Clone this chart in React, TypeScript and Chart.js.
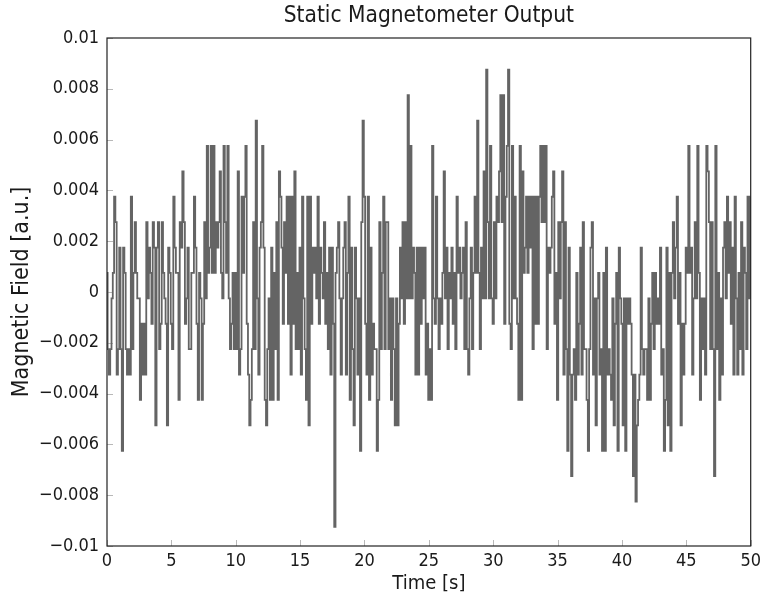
import { useEffect, useRef } from "react";
import { Chart, registerables } from "chart.js";

Chart.register(...registerables);

const TITLE = "Static Magnetometer Output";
const X_LABEL = "Time [s]";
const Y_LABEL = "Magnetic Field [a.u.]";

// Sampling and quantisation of the magnetometer readout
const SAMPLE_INTERVAL_S = 0.1;
const COUNT_SIZE = 0.001; // one quantisation step in a.u.
const COUNT_OFFSET = -0.00025; // level of count 0 in a.u.

// Readout in counts, segment by segment
const counts_0_0_to_8_3 = [
  1, -2, -3, -2, 0, 1, 4, 3, -3, -2,
  2, -2, -6, 2, 1, -2, -3, -2, -3, 4,
  -2, 1, 3, 1, 0, 0, -4, -1, -3, -1,
  -3, 3, 0, 2, 1, -1, 3, 2, -5, 2,
  3, -2, -1, 3, 1, 0, -1, -5, 2, 1,
  -1, -2, 4, 2, 1, 1, -4, 3, 2, 5,
  3, -1, 0, 2, -2, -2, 1, 1, 4, 2,
  -1, -4, 1, 0, -4, -1, 3, 0, 6, 1,
  2, 6, 1, 6,
];
const counts_8_4_to_16_7 = [
  1, 3, 2, 3, 5, 1, 0, 6, 3, 1,
  6, 0, -2, -1, 1, -2, 1, -2, 5, -3,
  -2, 4, 1, 4, 6, -1, -3, -5, -4, -2,
  3, -2, 7, 0, -3, 2, 3, 6, 2, -4,
  -5, -2, 0, -4, 2, -4, 1, -2, 3, -4,
  5, 4, 2, -1, 3, 1, 4, -1, 4, -3,
  4, -1, 5, -2, 1, -2, 2, -3, 4, 0,
  -2, -4, 4, -5, 4, -1, 2, 1, 2, 0,
  4, -1, 2, 1,
];
const counts_16_8_to_25_1 = [
  0, 3, -1, 1, -2, 2, -3, 2, -1, -9,
  1, 2, 3, 0, -3, 0, 2, 3, -3, 1,
  4, -4, 2, -2, -5, 2, 0, -3, 0, -6,
  3, 7, 4, -1, -3, 4, -4, 2, -3, -1,
  -2, -2, -6, -4, 3, -2, 1, 4, -2, 3,
  3, -2, 0, -4, 0, -2, -5, 0, -5, -1,
  2, 0, 3, -1, 3, 0, 8, 0, 6, 0,
  2, 1, -3, 2, -3, 2, -1, 2, 0, 2,
  -3, -1, -4, -2,
];
const counts_25_2_to_33_4 = [
  -4, 6, 0, -1, 4, 0, -2, 0, -1, 1,
  5, 0, 2, -2, 1, 0, 2, -1, 1, -2,
  4, 1, 2, 0, 1, 2, -2, 3, -2, -3,
  0, 2, -2, 1, 4, 1, 7, 1, -2, 2,
  0, 5, 0, 9, 3, 0, 6, 0, -1, 3,
  0, 4, 3, 5, 8, 3, 8, -1, 4, 6,
  9, -1, -2, 6, 0, 4, 0, -1, -4, 6,
  -4, 5, 1, 2, 4, 1, 4, 2, 4, -2,
  4, -1, 4,
];
const counts_33_5_to_41_8 = [
  -1, 4, 6, 3, 6, 3, 6, -2, 2, 1,
  2, 4, 5, -1, 1, -4, 3, 0, 3, 5,
  -3, 3, -2, -6, 2, -3, -7, -3, -2, -4,
  1, -3, -1, 2, -3, 3, -2, -2, -4, -6,
  -2, 2, 3, -3, 0, -5, 0, 1, -3, -2,
  -6, 1, -6, 2, -3, -2, -3, -4, 0, -5,
  -1, 1, -6, 2, 0, -1, -5, 0, -6, 0,
  -1, 0, -1, -3, -7, -3, -8, -5, -4, -3,
  2, -2, -3, -2,
];
const counts_41_9_to_50_0 = [
  -2, -4, 0, -4, -1, 1, -2, 1, -1, 0,
  -1, 2, -3, -2, -6, -4, 2, -5, 1, -6,
  1, 3, 0, 2, 4, -1, 1, -5, -1, -3,
  -1, 2, 1, 6, 1, 2, -3, 0, 3, 0,
  6, 1, -4, 0, -2, 0, -3, 6, 5, 3,
  -2, 3, -2, -7, 6, -2, 1, -4, 0, -3,
  2, 3, 0, 4, 1, 3, -1, 2, -3, 4,
  0, -3, 1, -2, 3, -3, 2, 1, -2, 4,
  0, 4,
];

const X_MIN = 0;
const X_MAX = 50;
const X_STEP = 5;
const Y_MIN = -0.01;
const Y_MAX = 0.01;
const Y_STEP = 0.002;

const FONT = '"DejaVu Sans Condensed", "Liberation Sans Narrow", "DejaVu Sans", sans-serif';
const TEXT = "#1a1a1a";

function fmtY(v: number): string {
  const r = Math.round(v * 1000) / 1000;
  if (r === 0) return "0";
  return (r < 0 ? "\u2212" : "") + String(Math.abs(r));
}

const framePlugin = {
  id: "frame",
  beforeDatasetsDraw(chart: any) {
    const { ctx, chartArea: a, scales } = chart;
    ctx.save();
    ctx.strokeStyle = "#b8b8b8";
    ctx.lineWidth = 1;
    scales.x.ticks.forEach((t: any) => {
      const px = Math.round(scales.x.getPixelForValue(t.value)) + 0.5;
      ctx.beginPath();
      ctx.moveTo(px, a.bottom);
      ctx.lineTo(px, a.bottom - 6);
      ctx.stroke();
    });
    scales.y.ticks.forEach((t: any) => {
      const py = Math.round(scales.y.getPixelForValue(t.value)) + 0.5;
      ctx.beginPath();
      ctx.moveTo(a.left, py);
      ctx.lineTo(a.left + 6, py);
      ctx.stroke();
    });
    ctx.restore();
  },
  afterDatasetsDraw(chart: any) {
    const { ctx, chartArea: a } = chart;
    ctx.save();
    ctx.strokeStyle = "#222222";
    ctx.lineWidth = 1.2;
    ctx.strokeRect(a.left, a.top, a.right - a.left, a.bottom - a.top);
    // title centred over the plot area
    ctx.fillStyle = TEXT;
    ctx.font = `22.5px ${FONT}`;
    ctx.textAlign = "center";
    ctx.textBaseline = "middle";
    ctx.fillText(TITLE, (a.left + a.right) / 2, 16);
    ctx.restore();
  },
};

export default function App() {
  const ref = useRef<HTMLCanvasElement | null>(null);

  useEffect(() => {
    if (!ref.current) return;
    const allCounts = [
      ...counts_0_0_to_8_3,
      ...counts_8_4_to_16_7,
      ...counts_16_8_to_25_1,
      ...counts_25_2_to_33_4,
      ...counts_33_5_to_41_8,
      ...counts_41_9_to_50_0,
    ];
    const points = allCounts.map((c, i) => ({
      x: i * SAMPLE_INTERVAL_S,
      y: c * COUNT_SIZE + COUNT_OFFSET,
    }));

    const chart = new Chart(ref.current, {
      type: "line",
      data: {
        datasets: [
          {
            data: points,
            borderColor: "rgb(100,100,100)",
            borderWidth: 1.8,
            borderJoinStyle: "miter",
            stepped: "middle",
            pointRadius: 0,
            tension: 0,
            fill: false,
          },
        ],
      },
      options: {
        animation: false,
        responsive: false,
        layout: { padding: { left: 0, right: 14, top: 38, bottom: 0 } },
        plugins: {
          legend: { display: false },
          tooltip: { enabled: false },
          title: { display: false },
        },
        scales: {
          x: {
            type: "linear",
            min: X_MIN,
            max: X_MAX,
            grid: { display: false, drawTicks: false, tickLength: 0 },
            border: { display: false },
            ticks: {
              stepSize: X_STEP,
              color: TEXT,
              padding: 5,
              maxRotation: 0,
              font: { family: FONT, size: 18 },
            },
            title: {
              display: true,
              text: X_LABEL,
              color: TEXT,
              font: { family: FONT, size: 20 },
              padding: { top: 0, bottom: 8 },
            },
            afterFit(scale: any) {
              scale.height = 58;
            },
          },
          y: {
            type: "linear",
            min: Y_MIN,
            max: Y_MAX,
            grid: { display: false, drawTicks: false, tickLength: 0 },
            border: { display: false },
            ticks: {
              stepSize: Y_STEP,
              color: TEXT,
              padding: 8,
              font: { family: FONT, size: 18 },
              callback: (v: any) => fmtY(Number(v)),
            },
            title: {
              display: true,
              text: Y_LABEL,
              color: TEXT,
              font: { family: FONT, size: 23 },
              padding: { top: 8, bottom: 0 },
            },
            afterFit(scale: any) {
              scale.width = 107;
            },
          },
        },
      },
      plugins: [framePlugin],
    });
    return () => chart.destroy();
  }, []);

  return (
    <div style={{ position: "fixed", left: 0, top: 0, width: 766, height: 604, background: "#fff" }}>
      <canvas ref={ref} width={766} height={604} style={{ display: "block" }} />
    </div>
  );
}
